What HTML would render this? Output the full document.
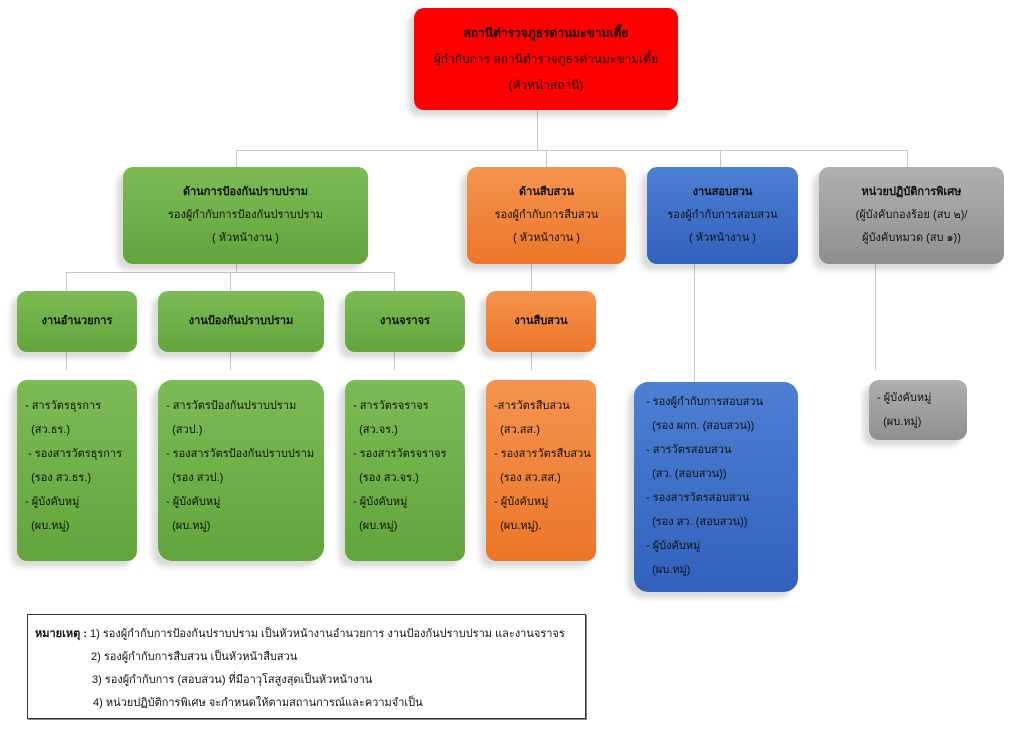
<!DOCTYPE html>
<html><head><meta charset="utf-8"><style>
body{margin:0;width:1024px;height:756px;background:#fff;position:relative;overflow:hidden;font-family:"Liberation Sans","DejaVu Sans","Noto Sans CJK SC",sans-serif;font-size:11px;color:#111}
.b{position:absolute;border-radius:10px;box-shadow:-6px 6px 6px rgba(0,0,0,.15);box-sizing:border-box;text-align:center}
.g{background:linear-gradient(#7dbb55,#62a53c)}
.o{background:linear-gradient(#f59450,#ec7628)}
.u{background:linear-gradient(#4d7fd3,#3261bd)}
.y{background:linear-gradient(#b0b0b0,#8f8f8f)}
.l{position:absolute;background:#c8c8c8}
.c{display:flex;flex-direction:column;justify-content:center;line-height:23px}
.t{text-align:left;padding:14px 0 0 8px;line-height:24px}
b{font-weight:bold}
</style></head><body>
<div class="l" style="left:537px;top:110px;width:1px;height:40px"></div>
<div class="l" style="left:236px;top:150px;width:672px;height:1px"></div>
<div class="l" style="left:236px;top:150px;width:1px;height:17px"></div>
<div class="l" style="left:546px;top:150px;width:1px;height:17px"></div>
<div class="l" style="left:720px;top:150px;width:1px;height:17px"></div>
<div class="l" style="left:907px;top:150px;width:1px;height:17px"></div>
<div class="l" style="left:236px;top:264px;width:1px;height:8px"></div>
<div class="l" style="left:66px;top:272px;width:329px;height:1px"></div>
<div class="l" style="left:66px;top:272px;width:1px;height:19px"></div>
<div class="l" style="left:230px;top:272px;width:1px;height:19px"></div>
<div class="l" style="left:394px;top:272px;width:1px;height:19px"></div>
<div class="l" style="left:531px;top:264px;width:1px;height:27px"></div>
<div class="l" style="left:66px;top:352px;width:1px;height:18px"></div>
<div class="l" style="left:230px;top:352px;width:1px;height:18px"></div>
<div class="l" style="left:394px;top:352px;width:1px;height:18px"></div>
<div class="l" style="left:531px;top:352px;width:1px;height:18px"></div>
<div class="l" style="left:694px;top:264px;width:1px;height:118px"></div>
<div class="l" style="left:875px;top:264px;width:1px;height:106px"></div>

<div class="b c" style="left:414px;top:8px;width:264px;height:102px;background:#f00;line-height:26px;font-size:12px"><b>สถานีตำรวจภูธรด่านมะขามเตี้ย</b><span>ผู้กำกับการ สถานีตำรวจภูธรด่านมะขามเตี้ย</span><span>(หัวหน้าสถานี)</span></div>

<div class="b g c" style="left:123px;top:167px;width:245px;height:97px"><b>ด้านการป้องกันปราบปราม</b><span>รองผู้กำกับการป้องกันปราบปราม</span><span>( หัวหน้างาน )</span></div>
<div class="b o c" style="left:467px;top:167px;width:159px;height:97px"><b>ด้านสืบสวน</b><span>รองผู้กำกับการสืบสวน</span><span>( หัวหน้างาน )</span></div>
<div class="b u c" style="left:647px;top:167px;width:151px;height:97px"><b>งานสอบสวน</b><span>รองผู้กำกับการสอบสวน</span><span>( หัวหน้างาน )</span></div>
<div class="b y c" style="left:819px;top:167px;width:185px;height:97px"><b>หน่วยปฏิบัติการพิเศษ</b><span>(ผู้บังคับกองร้อย (สบ ๒)/</span><span>ผู้บังคับหมวด (สบ ๑))</span></div>

<div class="b g c" style="left:17px;top:291px;width:120px;height:61px"><b>งานอำนวยการ</b></div>
<div class="b g c" style="left:158px;top:291px;width:166px;height:61px"><b>งานป้องกันปราบปราม</b></div>
<div class="b g c" style="left:345px;top:291px;width:120px;height:61px"><b>งานจราจร</b></div>
<div class="b o c" style="left:486px;top:291px;width:110px;height:61px"><b>งานสืบสวน</b></div>

<div class="b g t" style="left:17px;top:380px;width:120px;height:181px">- สารวัตรธุรการ<br>&nbsp;&nbsp;(สว.ธร.)<br>&nbsp;- รองสารวัตรธุรการ<br>&nbsp;&nbsp;(รอง สว.ธร.)<br>- ผู้บังคับหมู่<br>&nbsp;&nbsp;(ผบ.หมู่)</div>
<div class="b g t" style="left:158px;top:380px;width:166px;height:181px;border-radius:14px">- สารวัตรป้องกันปราบปราม<br>&nbsp;&nbsp;(สวป.)<br>- รองสารวัตรป้องกันปราบปราม<br>&nbsp;&nbsp;(รอง สวป.)<br>- ผู้บังคับหมู่<br>&nbsp;&nbsp;(ผบ.หมู่)</div>
<div class="b g t" style="left:345px;top:380px;width:120px;height:181px">- สารวัตรจราจร<br>&nbsp;&nbsp;(สว.จร.)<br>- รองสารวัตรจราจร<br>&nbsp;&nbsp;(รอง สว.จร.)<br>- ผู้บังคับหมู่<br>&nbsp;&nbsp;(ผบ.หมู่)</div>
<div class="b o t" style="left:486px;top:380px;width:110px;height:181px;padding-left:8px;white-space:nowrap;overflow:hidden">-สารวัตรสืบสวน<br>&nbsp;&nbsp;(สว.สส.)<br>- รองสารวัตรสืบสวน<br>&nbsp;&nbsp;(รอง สว.สส.)<br>- ผู้บังคับหมู่<br>&nbsp;&nbsp;(ผบ.หมู่).</div>
<div class="b u t" style="left:634px;top:382px;width:164px;height:210px;border-radius:14px;padding-top:8px;padding-left:12px">- รองผู้กำกับการสอบสวน<br>&nbsp;&nbsp;(รอง ผกก. (สอบสวน))<br>- สารวัตรสอบสวน<br>&nbsp;&nbsp;(สว. (สอบสวน))<br>- รองสารวัตรสอบสวน<br>&nbsp;&nbsp;(รอง สว. (สอบสวน))<br>- ผู้บังคับหมู่<br>&nbsp;&nbsp;(ผบ.หมู่)</div>
<div class="b y t" style="left:869px;top:380px;width:98px;height:60px;padding-top:6px">- ผู้บังคับหมู่<br>&nbsp;&nbsp;(ผบ.หมู่)</div>

<div style="position:absolute;left:27px;top:614px;width:559px;height:105px;border:1px solid #333;box-sizing:border-box;box-shadow:1px 1px 0 #888;padding:8px 0 0 7px;line-height:23px">
<b>หมายเหตุ :</b> 1) รองผู้กำกับการป้องกันปราบปราม เป็นหัวหน้างานอำนวยการ งานป้องกันปราบปราม และงานจราจร<br>
<span style="padding-left:56px">2) รองผู้กำกับการสืบสวน เป็นหัวหน้าสืบสวน</span><br>
<span style="padding-left:57px">3) รองผู้กำกับการ (สอบสวน) ที่มีอาวุโสสูงสุดเป็นหัวหน้างาน</span><br>
<span style="padding-left:58px">4) หน่วยปฏิบัติการพิเศษ จะกำหนดให้ตามสถานการณ์และความจำเป็น</span>
</div>
</body></html>
